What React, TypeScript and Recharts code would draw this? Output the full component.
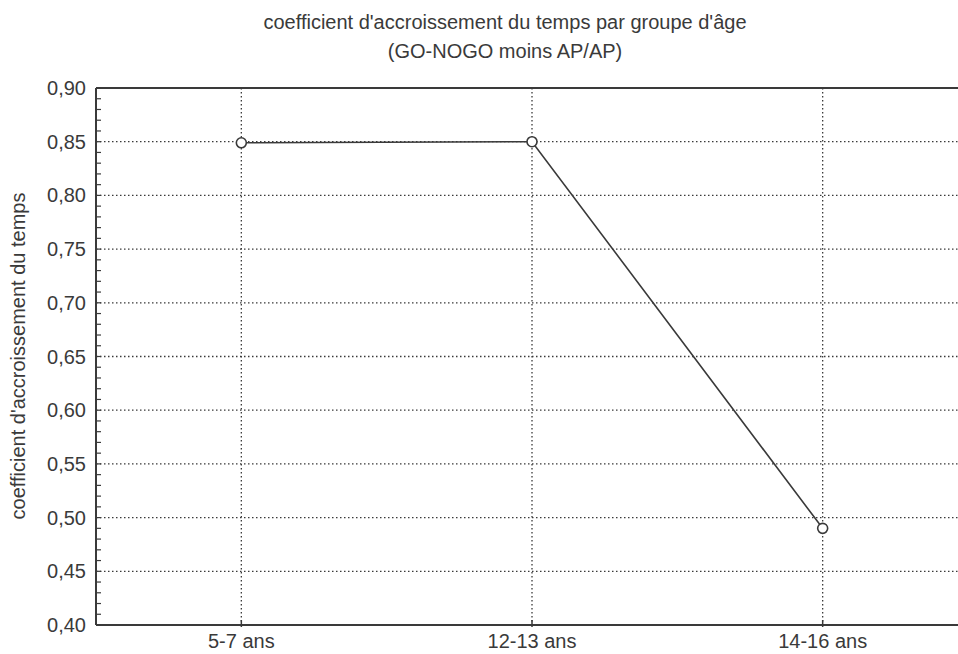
import { LineChart, Line, XAxis, YAxis, CartesianGrid, ReferenceLine } from 'recharts'

const groups = ['5-7 ans', '12-13 ans', '14-16 ans']
const coefficients = [0.849, 0.85, 0.49]
const majorTicks = [0.4, 0.45, 0.5, 0.55, 0.6, 0.65, 0.7, 0.75, 0.8, 0.85, 0.9]
const minorTicks = [
  0.41, 0.42, 0.43, 0.44, 0.46, 0.47, 0.48, 0.49, 0.51, 0.52, 0.53, 0.54, 0.56, 0.57, 0.58, 0.59,
  0.61, 0.62, 0.63, 0.64, 0.66, 0.67, 0.68, 0.69, 0.71, 0.72, 0.73, 0.74, 0.76, 0.77, 0.78, 0.79,
  0.81, 0.82, 0.83, 0.84, 0.86, 0.87, 0.88, 0.89,
]

const data = groups.map((g, i) => ({ groupe: g, coef: coefficients[i] }))

const ink = '#3a3a3a'
const font = 'Arial, "Liberation Sans", sans-serif'

function fmt(v: number) {
  return v.toFixed(2).replace('.', ',')
}

function isMajor(v: number) {
  return majorTicks.some((m) => Math.abs(m - v) < 1e-6)
}

function XTick({ x, y, payload }: { x?: number; y?: number; payload?: { value: string } }) {
  const px = x ?? 0
  const py = y ?? 0
  return (
    <g>
      <line x1={px} x2={px} y1={py} y2={py - 7} stroke={ink} strokeWidth={1.5} />
      <text x={px} y={py + 21} textAnchor="middle" fontSize={20} fill={ink} fontFamily={font}>
        {payload?.value}
      </text>
    </g>
  )
}

function YTick({ x, y, payload }: { x?: number; y?: number; payload?: { value: number } }) {
  const px = x ?? 0
  const py = y ?? 0
  const v = payload?.value ?? 0
  return (
    <g>
      <line x1={px} x2={px + 5} y1={py} y2={py} stroke={ink} strokeWidth={1.2} />
      {isMajor(v) && (
        <text x={px - 10} y={py} dy={7} textAnchor="end" fontSize={20} fill={ink} fontFamily={font}>
          {fmt(v)}
        </text>
      )}
    </g>
  )
}

export default function App() {
  return (
    <div style={{ position: 'absolute', left: 0, top: 0, width: 958, height: 654, overflow: 'hidden', background: '#fff', fontFamily: font }}>
      <div style={{ position: 'absolute', left: 0, width: 1010, top: 8, textAlign: 'center', fontSize: 20, color: ink, lineHeight: '29px' }}>
        coefficient d'accroissement du temps par groupe d'âge
        <br />
        (GO-NOGO moins AP/AP)
      </div>
      <div
        style={{
          position: 'absolute',
          left: 18,
          top: 356,
          transform: 'translate(-50%, -50%) rotate(-90deg)',
          whiteSpace: 'nowrap',
          fontSize: 20,
          color: ink,
        }}
      >
        coefficient d'accroissement du temps
      </div>
      <LineChart width={968} height={654} data={data} margin={{ top: 88, right: 0, bottom: 0, left: 0 }}>
        <CartesianGrid yAxisId="main" stroke={ink} strokeDasharray="1.5 2.5" strokeWidth={1.3} horizontalValues={majorTicks} />
        <XAxis
          dataKey="groupe"
          scale="band"
          height={29}
          stroke={ink}
          strokeWidth={2}
          tickLine={false}
          tickSize={0}
          tick={<XTick />}
          interval={0}
        />
        <YAxis
          yAxisId="main"
          domain={[0.4, 0.9]}
          ticks={[...majorTicks, ...minorTicks]}
          width={96}
          stroke={ink}
          strokeWidth={2}
          tickLine={false}
          tickSize={0}
          tickMargin={0}
          tick={<YTick />}
          interval={0}
        />
        <ReferenceLine yAxisId="main" y={0.9} stroke={ink} strokeWidth={2} />
        <Line
          yAxisId="main"
          dataKey="coef"
          stroke={ink}
          strokeWidth={1.6}
          isAnimationActive={false}
          dot={{ r: 5, fill: '#fff', stroke: ink, strokeWidth: 1.6 }}
        />
      </LineChart>
    </div>
  )
}
